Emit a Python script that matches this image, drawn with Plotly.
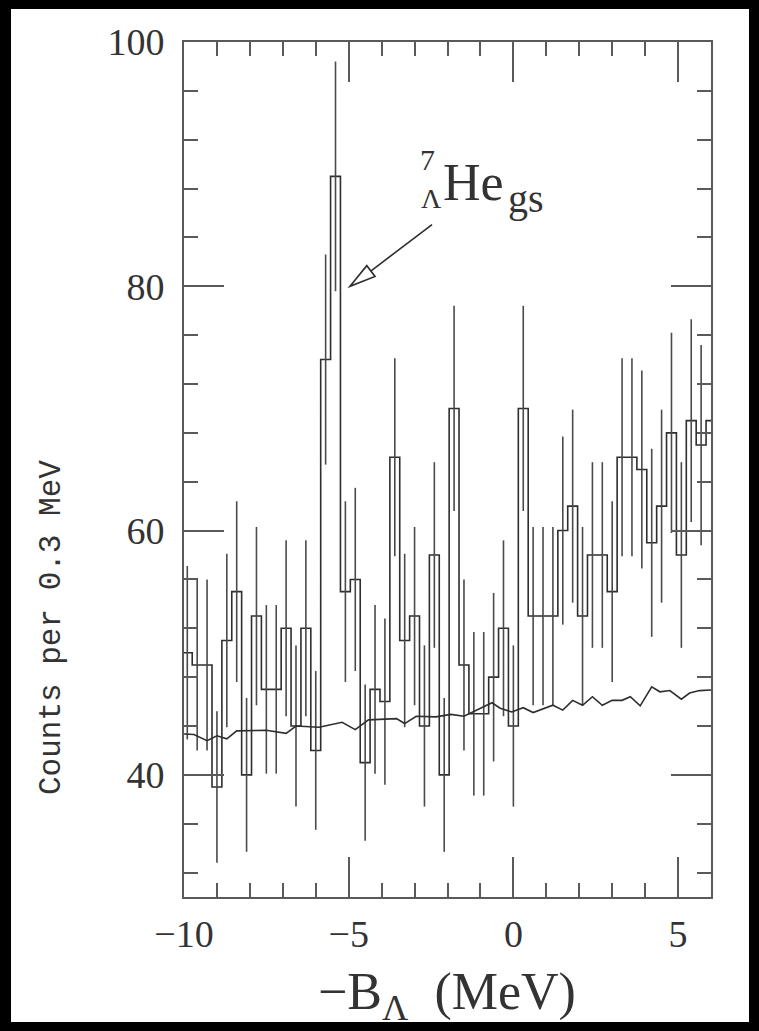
import plotly.graph_objects as go

# ---------------- data ----------------
bin_width = 0.3
bin_centers = [round(-9.9 + 0.3 * i, 2) for i in range(54)]
counts = [50, 49, 49, 39, 51, 55, 40, 53, 47, 47,
          52, 44, 52, 42, 74, 89, 55, 56, 41, 47,
          46, 66, 51, 53, 44, 58, 40, 70, 49, 45,
          45, 48, 52, 44, 70, 53, 53, 53, 60, 62,
          53, 58, 58, 55, 66, 66, 65, 59, 62, 68,
          58, 69, 67, 69]
errors = [7.1, 7.0, 7.0, 6.2, 7.1, 7.4, 6.3, 7.3, 6.9, 6.9,
          7.2, 6.6, 7.2, 6.5, 8.6, 9.4, 7.4, 7.5, 6.4, 6.9,
          6.8, 8.1, 7.1, 7.3, 6.6, 7.6, 6.3, 8.4, 7.0, 6.7,
          6.7, 6.9, 7.2, 6.6, 8.4, 7.3, 7.3, 7.3, 7.7, 7.9,
          7.3, 7.6, 7.6, 7.4, 8.1, 8.1, 8.1, 7.7, 7.9, 8.2,
          7.6, 8.3, 8.2, 0.0]

bg_x = [-10.0, -9.7, -9.3, -9.0, -8.7, -8.4, -7.5, -6.9, -6.6, -5.9,
        -5.2, -4.8, -4.4, -3.95, -3.55, -3.3, -2.95, -2.35, -1.9, -1.5,
        -1.1, -0.65, -0.4, -0.05, 0.3, 0.6, 1.2, 1.5, 1.8, 2.1,
        2.4, 2.7, 3.0, 3.3, 3.55, 3.85, 4.2, 4.45, 4.75, 5.1,
        5.35, 5.65, 6.0]
bg_y = [43.35, 43.3, 42.8, 43.2, 42.95, 43.6, 43.65, 43.4, 44.0, 43.9,
        44.3, 43.7, 44.5, 44.55, 44.6, 44.2, 44.8, 44.75, 44.95, 44.8,
        45.3, 45.9, 45.45, 45.15, 45.5, 45.1, 45.7, 45.3, 46.1, 45.7,
        46.4, 45.7, 46.1, 46.1, 46.4, 45.65, 47.2, 46.8, 46.9, 46.2,
        46.7, 46.9, 46.95]

x_range = [-10, 6]
y_range = [30, 100]
x_tick_vals = [-10, -5, 0, 5]
y_tick_vals = [40, 60, 80, 100]

# ---------------- layout geometry ----------------
W, H = 759, 1031
ML, MR, MT, MB = 184, 48, 42, 134
PW, PH = W - ML - MR, H - MT - MB


def px(xpix):
    return (xpix - ML) / PW


def py(ypix):
    return (H - MB - ypix) / PH


LINE = "#2e2e2e"
ERR = "#4a4a4a"
AXC = "#5a5a5a"
TXT = "#333333"
SERIF = "Liberation Serif"

# step histogram edges built from the centres
step_x = [c - bin_width / 2 for c in bin_centers] + [bin_centers[-1] + bin_width / 2]
step_y = counts + [counts[-1]]

fig = go.Figure()
fig.add_trace(go.Scatter(
    x=step_x, y=step_y, mode="lines", line=dict(shape="hv", color=LINE, width=1.6),
    hoverinfo="skip", showlegend=False))
fig.add_trace(go.Scatter(
    x=bin_centers, y=counts, mode="markers",
    marker=dict(size=1, color="rgba(0,0,0,0)"),
    error_y=dict(type="data", array=errors, visible=True, width=0,
                 thickness=1.6, color=ERR),
    showlegend=False))
fig.add_trace(go.Scatter(
    x=bg_x, y=bg_y, mode="lines", line=dict(color=LINE, width=1.6),
    showlegend=False))

axis_common = dict(showline=True, linecolor=AXC, linewidth=1.6, mirror="allticks",
                   ticks="inside", ticklen=40, tickwidth=1.6, tickcolor=AXC,
                   showgrid=False, zeroline=False,
                   tickfont=dict(family=SERIF, size=38, color=TXT))

fig.update_xaxes(range=x_range, tickvals=x_tick_vals, ticklabelstandoff=3,
                 minor=dict(ticks="inside", ticklen=14, dtick=1, tick0=0,
                            tickwidth=1.6, tickcolor=AXC, showgrid=False),
                 **axis_common)
fig.update_yaxes(range=y_range, tickvals=y_tick_vals, ticklabelstandoff=10,
                 minor=dict(ticks="inside", ticklen=14, dtick=4, tick0=0,
                            tickwidth=1.6, tickcolor=AXC, showgrid=False),
                 **axis_common)

# white page with black border
shapes = [dict(type="rect", xref="paper", yref="paper",
               x0=px(11), x1=px(749), y0=py(1022), y1=py(9),
               fillcolor="white", line=dict(width=0), layer="below")]

# arrow with hollow head (annotation decoration)
tip = (-4.96, 80.0)
start = (-2.47, 85.05)
base = (-4.33, 81.25)
cA = (-4.45, 81.69)
cB = (-4.20, 80.81)
shapes.append(dict(type="line", xref="x", yref="y", x0=start[0], y0=start[1],
                   x1=base[0], y1=base[1], line=dict(color=LINE, width=1.6)))
shapes.append(dict(type="path", xref="x", yref="y",
                   path=f"M {tip[0]},{tip[1]} L {cA[0]},{cA[1]} L {cB[0]},{cB[1]} Z",
                   fillcolor="white", line=dict(color=LINE, width=1.6)))

annotations = [
    dict(text="Counts per 0.3 MeV", xref="paper", yref="paper", x=px(51), y=py(628),
         textangle=-90, showarrow=False, xanchor="center", yanchor="middle",
         font=dict(family="Liberation Mono", size=31, color=TXT)),
    dict(text="\u2212B<sub>\u039b</sub>&nbsp;&nbsp;(MeV)", xref="paper", yref="paper",
         x=px(447), y=py(996), showarrow=False, xanchor="center", yanchor="middle",
         font=dict(family=SERIF, size=52, color=TXT)),
    dict(text="7", xref="paper", yref="paper", x=px(427), y=py(160), showarrow=False,
         xanchor="center", yanchor="middle", font=dict(family=SERIF, size=30, color=TXT)),
    dict(text="\u039b", xref="paper", yref="paper", x=px(431), y=py(198), showarrow=False,
         xanchor="center", yanchor="middle", font=dict(family=SERIF, size=28, color=TXT)),
    dict(text="He", xref="paper", yref="paper", x=px(441), y=py(183),
         showarrow=False, xanchor="left", yanchor="middle",
         font=dict(family=SERIF, size=52, color=TXT)),
    dict(text="gs", xref="paper", yref="paper", x=px(506), y=py(198),
         showarrow=False, xanchor="left", yanchor="middle",
         font=dict(family=SERIF, size=40, color=TXT)),
]

fig.update_layout(width=W, height=H, margin=dict(l=ML, r=MR, t=MT, b=MB),
                  paper_bgcolor="black", plot_bgcolor="white",
                  shapes=shapes, annotations=annotations, showlegend=False)

fig.write_html("out.html", config={"displayModeBar": False},
               post_script="document.body.style.margin='0px';"
                           "document.body.style.background='black';"
                           "document.body.style.overflow='hidden';")
